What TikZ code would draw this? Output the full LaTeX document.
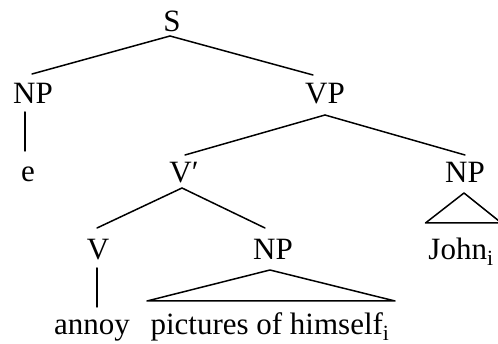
\documentclass[tikz,border=0pt]{standalone}
\usepackage{fontspec}
\setmainfont{Liberation Serif}
\usetikzlibrary{calc}
\begin{document}
\begin{tikzpicture}[x=1pt,y=-1pt,
  lbl/.style={anchor=base,inner sep=0pt,font=\fontsize{31}{37}\selectfont},
  branch/.style={line width=1.5pt,line cap=round,line join=round}]
\path[use as bounding box,clip] (0,0) rectangle (498,344);

% category labels and words
\node[lbl] (S)    at (172,32)  {S};
\node[lbl] (NPa)  at (33,104)  {NP};
\node[lbl] (VP)   at (325,104) {VP};
\node[lbl] (e)    at (28,182)  {e};
\node[lbl] (Vbar) at (184,183) {V′};
\node[lbl] (NPc)  at (465,183) {NP};
\node[lbl] (V)    at (98,260)  {V};
\node[lbl] (NPb)  at (273,260) {NP};
\node[lbl] (John) at (461,260) {John\textsubscript{i}};
\node[lbl] (annoy) at (92,335) {annoy};
\node[lbl] (pict) at (270,335) {pictures of himself\textsubscript{i}};

% branches
\draw[branch] ($(S.base)+(-2,4)$) -- ($(NPa.base)+(-1,-30)$);
\draw[branch] ($(S.base)+(-2,4)$) -- ($(VP.base)+(-12,-29)$);
\draw[branch] ($(NPa.base)+(-8,8)$) -- ($(e.base)+(-3,-31)$);
\draw[branch] ($(VP.base)+(0,11)$) -- ($(Vbar.base)+(1,-28)$);
\draw[branch] ($(VP.base)+(0,11)$) -- ($(NPc.base)+(0,-28)$);
\draw[branch] ($(Vbar.base)+(-2,5)$) -- ($(V.base)+(-1,-32)$);
\draw[branch] ($(Vbar.base)+(-2,5)$) -- ($(NPb.base)+(-8,-32)$);
\draw[branch] ($(V.base)+(-1,8)$) -- ($(annoy.base)+(5,-28)$);

% roofs over unanalysed phrases
\draw[branch] ($(NPb.base)+(-3,10)$) -- ($(pict.base)+(-123,-34)$)
  -- ($(pict.base)+(125,-34)$) -- cycle;
\draw[branch] ($(NPc.base)+(-1,10)$) -- ($(John.base)+(-35.5,-37)$)
  -- ($(John.base)+(40.5,-37)$) -- cycle;
\end{tikzpicture}
\end{document}
